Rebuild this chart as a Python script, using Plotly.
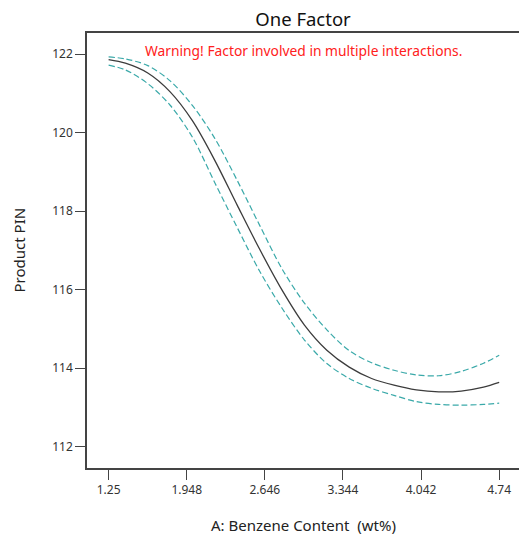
import plotly.graph_objects as go

# Benzene content grid (wt%)
benzene = [1.25, 1.4, 1.6, 1.8, 2.0, 2.2, 2.4, 2.6, 2.8, 3.0, 3.2, 3.4, 3.6, 3.8, 4.0, 4.2, 4.4, 4.6, 4.74]
# Predicted Product PIN
pin_pred = [121.86, 121.77, 121.52, 121.04, 120.30, 119.29, 118.15, 117.03, 115.99, 115.10, 114.46,
            114.03, 113.74, 113.57, 113.45, 113.40, 113.42, 113.52, 113.64]
# Upper 95% CI band
pin_upper = [121.93, 121.88, 121.71, 121.32, 120.69, 119.85, 118.78, 117.64, 116.53, 115.66, 114.98,
             114.45, 114.14, 113.95, 113.83, 113.81, 113.92, 114.13, 114.33]
# Lower 95% CI band
pin_lower = [121.72, 121.60, 121.25, 120.70, 119.88, 118.72, 117.58, 116.47, 115.53, 114.72, 114.12,
             113.74, 113.49, 113.31, 113.15, 113.08, 113.06, 113.08, 113.11]

x_tickvals = [1.25, 1.948, 2.646, 3.344, 4.042, 4.74]
x_ticktext = ["1.25", "1.948", "2.646", "3.344", "4.042", "4.74"]
y_tickvals = [112, 114, 116, 118, 120, 122]

FONT = "Noto Sans, Open Sans, sans-serif"
teal = "#3aa9a9"

fig = go.Figure()
fig.add_trace(go.Scatter(x=benzene, y=pin_upper, mode="lines",
                         line=dict(color=teal, width=1.2, dash="6px,3px", shape="spline", smoothing=0.9),
                         showlegend=False, hoverinfo="skip"))
fig.add_trace(go.Scatter(x=benzene, y=pin_lower, mode="lines",
                         line=dict(color=teal, width=1.2, dash="6px,3px", shape="spline", smoothing=0.9),
                         showlegend=False, hoverinfo="skip"))
fig.add_trace(go.Scatter(x=benzene, y=pin_pred, mode="lines",
                         line=dict(color="#3c3c3c", width=1.3, shape="spline", smoothing=0.9),
                         showlegend=False))

fig.update_layout(
    width=519, height=538,
    margin=dict(l=87, r=0, t=33, b=70),
    plot_bgcolor="white", paper_bgcolor="white",
    font=dict(family=FONT, color="#222"),
    title=dict(text="One Factor", x=303/519, xanchor="center", y=1 - 20/538, yanchor="middle",
               xref="container", yref="container",
               font=dict(size=18.5, color="#111", family=FONT)),
    xaxis=dict(range=[1.057, 4.917], tickvals=x_tickvals, ticktext=x_ticktext,
               showgrid=False, zeroline=False, showline=True, linecolor="#444", linewidth=1.5,
               mirror=True, ticks="outside", ticklen=10, tickcolor="#444", tickwidth=1,
               tickfont=dict(size=12, color="#333")),
    yaxis=dict(range=[111.46, 122.54], tickvals=y_tickvals,
               showgrid=False, zeroline=False, showline=True, linecolor="#444", linewidth=1.5,
               ticks="outside", ticklen=10, tickcolor="#444", tickwidth=1,
               tickfont=dict(size=12, color="#333")),
    annotations=[
        dict(text="Warning! Factor involved in multiple interactions.", x=0.5, xref="paper",
             y=(468 - 51) / 435, yref="paper", xanchor="center", yanchor="middle",
             showarrow=False, font=dict(size=13.8, color="#ff2020", family=FONT)),
        dict(text="A: Benzene Content\u00a0 (wt%)", x=0.5, xref="paper",
             y=-(525 - 468) / 435, yref="paper", xanchor="center", yanchor="middle",
             showarrow=False, font=dict(size=15, color="#222", family=FONT)),
        dict(text="Product PIN", x=-(87 - 18) / 432, xref="paper", y=0.5, yref="paper",
             xanchor="center", yanchor="middle", textangle=-90,
             showarrow=False, font=dict(size=15, color="#222", family=FONT)),
    ],
)

fig.write_html("out.html", config={"displayModeBar": False},
               post_script="document.body.style.margin='0';document.body.style.overflow='hidden';")
